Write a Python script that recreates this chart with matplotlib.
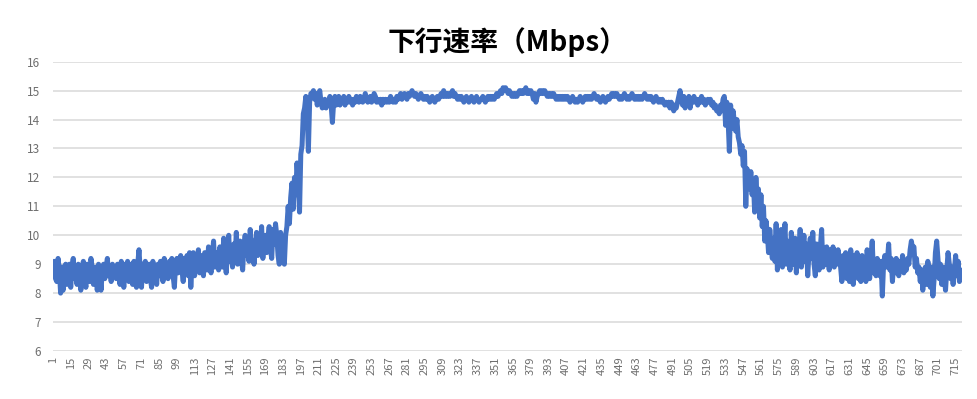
import matplotlib
matplotlib.use("Agg")
import matplotlib.pyplot as plt
import numpy as np

plt.rcParams['font.family'] = ['Noto Sans CJK SC', 'DejaVu Sans']

# === DATOS ===
title = "下行速率（Mbps）"

# 1-110: tramo inicial ~8.8
seg_start = [
    8.9, 9.1, 8.5, 8.4, 9.2, 8.8, 8.0, 8.9, 8.1, 8.9, 9.0, 8.3, 8.8, 9.0, 8.2, 8.9, 9.2, 8.5, 8.9, 8.3,
    9.0, 8.7, 8.1, 8.8, 9.1, 8.6, 8.2, 9.0, 8.8, 8.4, 9.2, 8.9, 8.3, 8.8, 8.9, 8.1, 9.0, 8.6, 8.1, 8.8,
    9.0, 8.5, 8.9, 9.2, 8.6, 8.9, 8.4, 9.0, 8.7, 8.9, 8.5, 9.0, 8.8, 8.3, 9.1, 8.9, 8.2, 9.0, 8.6, 9.1,
    8.4, 8.9, 9.0, 8.3, 9.1, 8.6, 8.2, 9.0, 9.5, 8.8, 8.2, 9.0, 8.7, 9.1, 8.4, 8.9, 9.0, 8.5, 8.2, 9.1,
    8.7, 8.9, 8.3, 9.0, 8.6, 9.1, 8.8, 8.4, 9.2, 8.7, 9.0, 8.5, 9.1, 8.8, 9.2, 8.6, 8.2, 9.0, 9.2, 8.7,
    9.1, 9.3, 8.8, 8.4, 9.2, 8.9, 9.3, 8.6, 9.4, 8.2,
]
# 111-185: subida lenta
seg_slow = [
    9.0, 9.4, 8.6, 9.2, 8.9, 9.5, 8.7, 9.3, 9.0, 8.6, 9.4, 9.1, 8.8, 9.6, 9.0, 8.7, 9.3, 9.8, 8.9, 9.4,
    9.1, 8.8, 9.6, 9.2, 8.9, 9.9, 9.3, 8.7, 9.5, 10.0, 9.1, 9.4, 8.9, 9.7, 9.2, 10.1, 9.0, 9.5, 9.8, 9.2,
    8.8, 9.6, 10.0, 9.3, 9.7, 9.1, 10.2, 9.4, 9.8, 9.0, 9.6, 10.1, 9.3, 9.9, 9.5, 10.3, 9.2, 9.8, 10.0, 9.4,
    9.9, 10.3, 9.5, 9.2, 10.2, 9.7, 10.4, 10.0, 9.3, 9.0, 10.1, 9.8, 9.1, 9.0, 10.0,
]
# 186-205: subida rápida
seg_rise = [10.3, 11.0, 10.4, 11.3, 11.8, 10.9, 12.0, 11.4, 12.5, 11.8,
            10.8, 12.8, 13.1, 14.2, 14.4, 14.8, 14.3, 12.9, 14.6, 14.9]
# 206-225
seg_top = [14.9, 15.0, 14.7, 14.9, 14.5, 14.8, 15.0, 14.6, 14.4, 14.5,
           14.7, 14.4, 14.6, 14.5, 14.8, 14.5, 13.9, 14.6, 14.8, 14.5]
# 226-519: meseta
seg_plateau = [
    14.6, 14.8, 14.5, 14.7, 14.6, 14.8, 14.5, 14.7, 14.6, 14.8, 14.6, 14.7, 14.5, 14.7, 14.6, 14.8, 14.7, 14.6, 14.8, 14.7,
    14.6, 14.7, 14.9, 14.7, 14.6, 14.7, 14.8, 14.6, 14.7, 14.9, 14.8, 14.6, 14.7, 14.6, 14.7, 14.5, 14.7, 14.6, 14.7, 14.6,
    14.7, 14.6, 14.8, 14.7, 14.6, 14.7, 14.6, 14.8, 14.7, 14.8, 14.9, 14.7, 14.8, 14.9, 14.8, 14.7, 14.9, 14.8, 14.9, 15.0,
    14.9, 14.8, 14.9, 14.8, 14.7, 14.8, 14.9, 14.8, 14.7, 14.8, 14.7, 14.8, 14.7, 14.6, 14.7, 14.8, 14.7, 14.6, 14.7, 14.8,
    14.7, 14.8, 14.9, 14.8, 15.0, 14.8, 14.9, 14.8, 14.9, 14.8, 14.9, 15.0, 14.8, 14.9, 14.8, 14.7, 14.8, 14.7, 14.8, 14.7,
    14.6, 14.7, 14.8, 14.7, 14.6, 14.7, 14.8, 14.7, 14.6, 14.7, 14.8, 14.7, 14.6, 14.7, 14.7, 14.8, 14.7, 14.6, 14.7, 14.8,
    14.7, 14.8, 14.7, 14.8, 14.7, 14.8, 14.9, 14.8, 14.9, 15.0, 14.9, 15.1, 15.0, 15.1, 15.0, 14.9, 15.0, 14.9, 14.8, 14.9,
    14.8, 14.9, 14.8, 14.9, 15.0, 14.9, 15.0, 14.9, 15.0, 15.1, 14.9, 15.0, 14.9, 15.0, 14.9, 14.7, 14.9, 14.6, 14.8, 14.9,
    15.0, 14.9, 15.0, 14.9, 15.0, 14.9, 14.8, 14.9, 14.8, 14.9, 14.8, 14.9, 14.8, 14.7, 14.8, 14.7, 14.8, 14.7, 14.8, 14.7,
    14.8, 14.7, 14.8, 14.7, 14.6, 14.7, 14.8, 14.7, 14.6, 14.7, 14.6, 14.7, 14.8, 14.7, 14.6, 14.7, 14.8, 14.7, 14.8, 14.7,
    14.8, 14.7, 14.8, 14.9, 14.8, 14.7, 14.8, 14.7, 14.6, 14.7, 14.8, 14.7, 14.6, 14.7, 14.8, 14.7, 14.8, 14.9, 14.8, 14.9,
    14.8, 14.9, 14.8, 14.7, 14.8, 14.7, 14.8, 14.9, 14.8, 14.7, 14.8, 14.7, 14.8, 14.9, 14.8, 14.7, 14.8, 14.7, 14.8, 14.7,
    14.8, 14.7, 14.8, 14.9, 14.8, 14.7, 14.8, 14.7, 14.8, 14.7, 14.6, 14.7, 14.8, 14.7, 14.6, 14.7, 14.6, 14.7, 14.6, 14.5,
    14.6, 14.5, 14.6, 14.4, 14.6, 14.5, 14.3, 14.5, 14.4, 14.6, 14.8, 15.0, 14.7, 14.5, 14.8, 14.4, 14.7, 14.6, 14.8, 14.4,
    14.7, 14.6, 14.8, 14.6, 14.7, 14.5, 14.7, 14.6, 14.8, 14.6, 14.7, 14.5, 14.6, 14.7,
]
# 520-570: caída
seg_fall = [
    14.6, 14.7, 14.5, 14.6, 14.4, 14.5, 14.3, 14.4, 14.2, 14.5, 14.3,
    14.7, 14.8, 13.8, 14.6, 14.0, 12.9, 14.5, 13.7, 14.3, 13.9,
    13.6, 14.0, 13.4, 13.2, 12.8, 13.1, 12.4, 12.9, 11.0, 12.3,
    12.0, 11.6, 12.2, 11.4, 11.9, 10.8, 12.0, 11.2, 11.6, 10.6,
    11.4, 10.3, 11.0, 9.8, 10.5, 10.1, 9.4, 10.2, 9.6, 9.2,
]
# 571-600
seg_low = [
    9.9, 9.1, 10.4, 8.8, 9.7, 9.3, 10.2, 8.9, 9.6, 10.4, 9.0, 9.8, 9.2, 8.8, 10.1, 9.4, 9.0, 9.9, 8.7, 9.6,
    9.3, 10.2, 8.9, 9.5, 10.0, 9.1, 9.7, 8.6, 9.4, 9.9,
]
# 601-720
seg_end = [
    9.2, 10.1, 9.0, 8.6, 9.7, 9.3, 8.8, 9.6, 10.2, 8.9,
    9.5, 9.0, 9.6, 9.2, 8.8, 9.5, 9.1, 9.6, 8.9, 9.4,
    9.0, 9.5, 9.2, 8.9, 8.4, 9.3, 8.8, 9.4, 8.5, 9.2,
    8.4, 9.5, 8.9, 8.3, 9.3, 8.6, 9.4, 8.5, 9.0, 8.4,
    9.3, 8.7, 9.1, 8.4, 9.5, 8.8, 8.5, 9.2, 9.8, 8.7,
    9.0, 8.6, 9.2, 8.8, 8.6, 9.1, 7.9, 9.0, 9.3, 8.9,
    9.1, 9.7, 8.8, 9.2, 8.4, 9.0, 8.7, 9.2, 8.9, 8.6,
    9.1, 8.8, 9.3, 8.7, 9.0, 8.8, 9.2, 9.0, 9.5, 9.8,
    9.5, 9.6, 8.9, 9.2, 8.7, 8.9, 8.4, 8.8, 8.1, 8.6,
    8.9, 8.3, 9.1, 8.8, 8.2, 8.9, 7.9, 8.5, 9.4, 9.8,
    9.2, 8.5, 9.0, 8.3, 8.9, 8.6, 8.1, 8.8, 9.4, 9.0,
    8.5, 8.9, 8.3, 8.8, 9.3, 8.6, 9.1, 8.4, 8.8, 8.5,
]

velocidad = seg_start + seg_slow + seg_rise + seg_top + seg_plateau + seg_fall + seg_low + seg_end
muestras = np.arange(1, len(velocidad) + 1)
xticks = list(range(1, len(velocidad) + 1, 14))
yticks = list(range(6, 17))

# === VISUALIZAR ===
fig = plt.figure(figsize=(9.78, 3.99), dpi=100)
ax = fig.add_axes([0.0542, 0.1203, 0.9294, 0.7251])

ax.plot(muestras, velocidad, color='#4472C4', linewidth=3.6,
        solid_joinstyle='round', solid_capstyle='round', zorder=3)

ax.set_xlim(1, len(velocidad))
ax.set_ylim(6, 16)
ax.set_yticks(yticks)
ax.set_xticks(xticks)
ax.set_xticklabels([str(t) for t in xticks], rotation=90, fontsize=8, color='#6E6E6E')
ax.set_yticklabels([str(t) for t in yticks], fontsize=8.5, color='#6E6E6E')
ax.tick_params(axis='both', length=0)
ax.tick_params(axis='x', pad=4)
ax.tick_params(axis='y', pad=9)

ax.grid(axis='y', color='#D9D9D9', linewidth=1.1, zorder=0)
for s in ax.spines.values():
    s.set_visible(False)

ax.set_title(title, fontsize=20, fontweight='bold', pad=8)

fig.savefig("out.png", dpi=100)
